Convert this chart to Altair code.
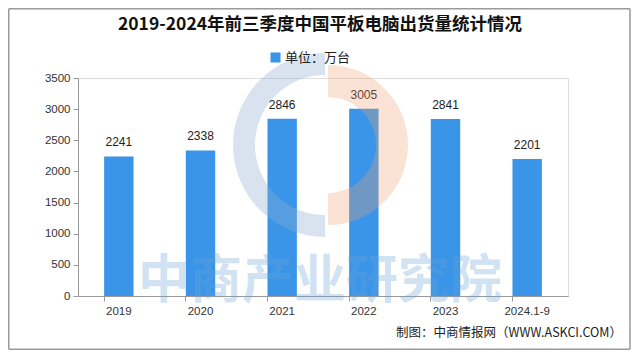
import math
import altair as alt
import pandas as pd

categories = ["2019", "2020", "2021", "2022", "2023", "2024.1-9"]
values = [2241, 2338, 2846, 3005, 2841, 2201]
series_name = "单位：万台"
title_text = "2019-2024年前三季度中国平板电脑出货量统计情况"
footer_text = "制图：中商情报网（WWW.ASKCI.COM）"
watermark_text = "中商产业研究院"
y_ticks = [0, 500, 1000, 1500, 2000, 2500, 3000, 3500]

df = pd.DataFrame({"cat": categories, "val": values, "series": [series_name] * len(categories)})
one = pd.DataFrame({"a": [0]})

BLUE = "#3a95e8"
LABEL_FONT = "Liberation Sans"
CJK = "Noto Sans CJK SC"

x_enc = alt.X("cat:N", sort=categories, title=None,
              scale=alt.Scale(paddingInner=0.64, paddingOuter=0.32),
              axis=alt.Axis(labelAngle=0, bandPosition=0, tickSize=5, labelPadding=4,
                            domainColor="#999999", tickColor="#999999",
                            labelColor="#333333", labelFontSize=11.5, labelFont=LABEL_FONT))
y_enc = alt.Y("val:Q", title=None,
              scale=alt.Scale(domain=[0, 3500], nice=False),
              axis=alt.Axis(values=y_ticks, grid=False, tickSize=5, labelPadding=3,
                            format="d", labelOverlap=False,
                            domainColor="#999999", tickColor="#999999",
                            labelColor="#333333", labelFontSize=11.5, labelFont=LABEL_FONT))

bars = alt.Chart(df).mark_bar(color=BLUE).encode(
    x=x_enc, y=y_enc,
    color=alt.Color("series:N", scale=alt.Scale(range=[BLUE]),
                    legend=alt.Legend(title=None, orient="none", legendX=191, legendY=-27,
                                      symbolType="square", symbolSize=100, padding=0,
                                      labelFont=CJK, labelFontSize=13, labelColor="#222222",
                                      symbolStrokeWidth=0, labelOffset=3)),
)

labels = alt.Chart(df).mark_text(baseline="bottom", dy=-7, fontSize=12, font=LABEL_FONT,
                                 color="#222222").encode(
    x=x_enc, y=y_enc, text="val:Q")

logo_blue = alt.Chart(one).mark_arc(theta=math.pi, theta2=2 * math.pi, radius=92, radius2=70,
                                    color="#8fb0d0", opacity=0.35).encode(
    x=alt.value(247), y=alt.value(67))
logo_peach = alt.Chart(one).mark_arc(theta=0.0, theta2=math.pi, radius=80, radius2=48,
                                     color="#f0a070", opacity=0.3).encode(
    x=alt.value(250), y=alt.value(67))

watermark = alt.Chart(one).mark_text(text=watermark_text, fontSize=52, font=CJK, fontWeight="bold",
                                     color="#6aa3d8", opacity=0.3).encode(
    x=alt.value(242), y=alt.value(204))

title = alt.Chart(one).mark_text(text=title_text, fontSize=17.5, font=CJK, fontWeight="bold",
                                 color="#111111").encode(
    x=alt.value(242), y=alt.value(-53))

footer = alt.Chart(one).mark_text(text=footer_text, fontSize=12.5, font=CJK, align="right",
                                  color="#222222").encode(
    x=alt.value(544), y=alt.value(255))

L, R, T, B = -69.25, 552, -69.25, 271.25
rule_kw = dict(color="#9a9a9a", strokeWidth=1.5)
border_top = alt.Chart(one).mark_rule(**rule_kw).encode(
    x=alt.value(L), x2=alt.value(R), y=alt.value(T), y2=alt.value(T))
border_bottom = alt.Chart(one).mark_rule(**rule_kw).encode(
    x=alt.value(L), x2=alt.value(R), y=alt.value(B), y2=alt.value(B))
border_left = alt.Chart(one).mark_rule(**rule_kw).encode(
    x=alt.value(L), x2=alt.value(L), y=alt.value(T), y2=alt.value(B))
border_right = alt.Chart(one).mark_rule(**rule_kw).encode(
    x=alt.value(R), x2=alt.value(R), y=alt.value(T), y2=alt.value(B))

chart = alt.layer(bars, labels, logo_blue, logo_peach, watermark, title, footer,
                  border_top, border_bottom, border_left, border_right).properties(
    width=490, height=218,
    autosize=alt.AutoSizeParams(type="none"),
    padding={"left": 70, "top": 70, "right": 64, "bottom": 54},
).configure_view(stroke=None).configure(background="white")

chart.save("out.html", embed_options={"renderer": "svg", "actions": False})
